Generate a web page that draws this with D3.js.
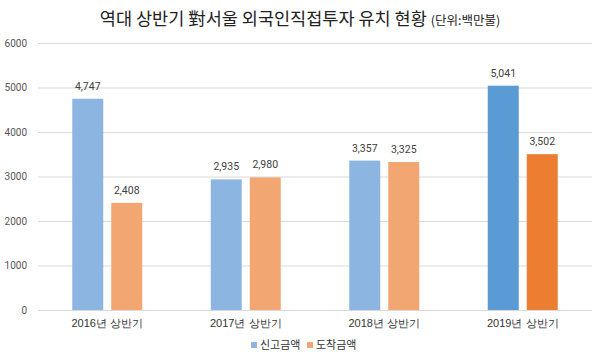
<!DOCTYPE html>
<html><head><meta charset="utf-8">
<script src="https://cdn.jsdelivr.net/npm/d3@7"></script>
<style>body{margin:0;background:#fff}svg{display:block;font-family:"Noto Sans CJK KR","Noto Sans",sans-serif}</style>
</head><body>
<svg id="c" width="600" height="359"></svg>
<script>
const categories = ["2016년 상반기","2017년 상반기","2018년 상반기","2019년 상반기"];
const seriesNames = ["신고금액","도착금액"];
const reported = [4747, 2935, 3357, 5041];
const arrived = [2408, 2980, 3325, 3502];
const yTicks = [0,1000,2000,3000,4000,5000,6000];

const lightColors = ["#8cb6e1","#f2a672"];
const strongColors = ["#5b9bd5","#ed7d31"];

const svg = d3.select("#c");
const m = {l:38, r:8, t:43, b:49};
const W = 600, H = 359;
const x = d3.scaleBand().domain(categories).range([m.l, W-m.r]).paddingInner(0).paddingOuter(0);
const y = d3.scaleLinear().domain([0,6000]).range([H-m.b, m.t]);
const barW = 31, gap = 8;

// title
const title = svg.append("text").attr("x",300).attr("y",25).attr("text-anchor","middle").attr("fill","#222");
title.append("tspan").attr("font-size",17.5).text("역대 상반기 對서울 외국인직접투자 유치 현황 ");
title.append("tspan").attr("font-size",12.5).text("(단위:백만불)");

// grid
svg.append("g").selectAll("line").data(yTicks).join("line")
  .attr("x1",m.l).attr("x2",W-m.r).attr("y1",d=>y(d)+0.5).attr("y2",d=>y(d)+0.5)
  .attr("stroke","#d9d9d9").attr("stroke-width",1);

// y axis labels
const yAxis = d3.axisLeft(y).tickValues(yTicks).tickSize(0).tickPadding(0).tickFormat(d3.format("d"));
const ya = svg.append("g").attr("transform",`translate(${m.l-11},0)`).call(yAxis);
ya.select(".domain").remove();
ya.selectAll("text").attr("font-size",10).attr("fill","#555").attr("font-family","Roboto,'Noto Sans',sans-serif");

// bars
const data = categories.map((c,i)=>({c, vals:[reported[i], arrived[i]], i}));
const g = svg.append("g");
data.forEach(d=>{
  const cx = x(d.c) + x.bandwidth()/2;
  d.vals.forEach((v,j)=>{
    const bx = j===0 ? cx - gap/2 - barW : cx + gap/2;
    const col = d.i===3 ? strongColors[j] : lightColors[j];
    g.append("rect").attr("x",bx).attr("y",y(v)).attr("width",barW).attr("height",y(0)-y(v)).attr("fill",col);
    g.append("text").attr("x",bx+barW/2).attr("y",y(v)-9).attr("text-anchor","middle")
      .attr("font-size",10.5).attr("fill","#404040").attr("font-family","Roboto,'Noto Sans',sans-serif")
      .text(d3.format(",")(v));
  });
});

// x labels
const xAxis = d3.axisBottom(x).tickSize(0).tickPadding(0);
const xa = svg.append("g").attr("transform",`translate(0,${H-m.b+17})`).call(xAxis);
xa.select(".domain").remove();
xa.selectAll("text").attr("font-size",11).attr("fill","#333").attr("dy","0");

// legend
const legX = [251, 307];
seriesNames.forEach((n,j)=>{
  svg.append("rect").attr("x",legX[j]).attr("y",342).attr("width",6).attr("height",6).attr("fill",lightColors[j]);
  svg.append("text").attr("x",legX[j]+9).attr("y",349).attr("font-size",11).attr("fill","#333").text(n);
});
</script>
</body></html>
